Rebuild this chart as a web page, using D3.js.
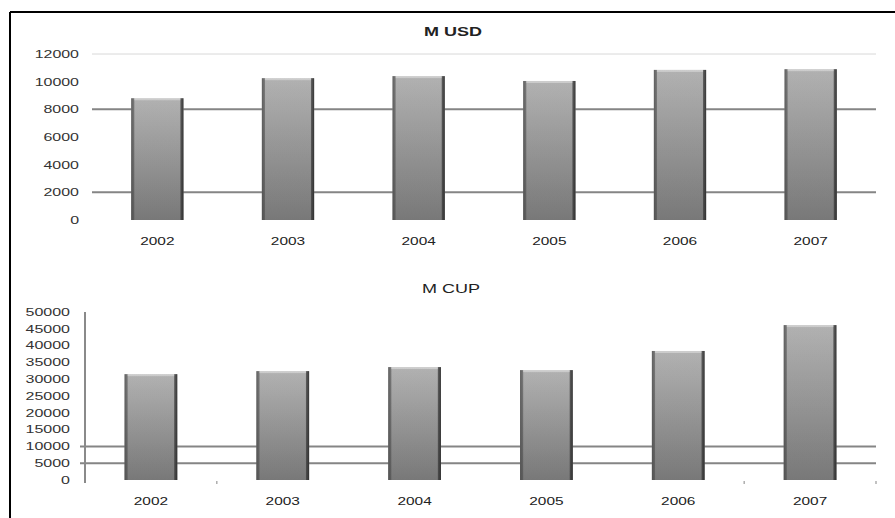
<!DOCTYPE html>
<html><head><meta charset="utf-8">
<script src="https://cdn.jsdelivr.net/npm/d3@7"></script>
<style>body{margin:0;background:#fff}svg{display:block;font-family:"Liberation Sans",Arial,sans-serif}</style>
</head><body><svg id="c" width="895" height="518"></svg>
<script>
const years = ["2002","2003","2004","2005","2006","2007"];
const usdValues = [8800, 10250, 10400, 10050, 10850, 10900];
const cupValues = [31500, 32400, 33600, 32700, 38400, 46100];
const usdTicks = [0,2000,4000,6000,8000,10000,12000];
const usdGrid = [2000,8000];
const cupTicks = [0,5000,10000,15000,20000,25000,30000,35000,40000,45000,50000];
const cupGrid = [5000,10000];

const svg = d3.select("#c");
const defs = svg.append("defs");
const g1 = defs.append("linearGradient").attr("id","barV").attr("x1",0).attr("y1",0).attr("x2",0).attr("y2",1);
g1.append("stop").attr("offset","0%").attr("stop-color","#b6b6b6");
g1.append("stop").attr("offset","100%").attr("stop-color","#7a7a7a");
const g2 = defs.append("linearGradient").attr("id","barH").attr("x1",0).attr("y1",0).attr("x2",1).attr("y2",0);
g2.append("stop").attr("offset","0%").attr("stop-color","#444").attr("stop-opacity",0.75);
g2.append("stop").attr("offset","5%").attr("stop-color","#444").attr("stop-opacity",0.55);
g2.append("stop").attr("offset","7%").attr("stop-color","#555").attr("stop-opacity",0.05);
g2.append("stop").attr("offset","93%").attr("stop-color","#555").attr("stop-opacity",0.05);
g2.append("stop").attr("offset","95%").attr("stop-color","#333").attr("stop-opacity",0.7);
g2.append("stop").attr("offset","100%").attr("stop-color","#222").attr("stop-opacity",0.85);

function panel(o){
  const x = d3.scaleBand().domain(years).range([o.x0,o.x1]).paddingInner(0.6).paddingOuter(0.3);
  const y = d3.scaleLinear().domain([0,o.max]).range([o.y0,o.y1]);
  const g = svg.append("g");
  g.append("text").attr("class","st").attr("data-f",1.5).attr("x",o.tx).attr("y",o.ty).attr("text-anchor","middle")
    .attr("font-size",12).attr("font-weight",o.bold?"bold":"normal").attr("fill","#222").text(o.title);
  if(o.topLine){
    g.append("line").attr("x1",o.x0).attr("x2",o.x1).attr("y1",y(o.max)).attr("y2",y(o.max))
      .attr("stroke","#d8d8d8").attr("stroke-width",1);
  }
  g.selectAll(".gl").data(o.grid).join("line")
    .attr("x1",o.gx0).attr("x2",o.x1).attr("y1",d=>y(d)).attr("y2",d=>y(d))
    .attr("stroke","#858585").attr("stroke-width",2);
  const ya = d3.axisLeft(y).tickValues(o.ticks).tickSize(0).tickPadding(0).tickFormat(d3.format("d"));
  const ay = g.append("g").attr("transform",`translate(${o.lx},0)`).call(ya);
  ay.select(".domain").remove();
  ay.selectAll("text").attr("class","st").attr("data-f",o.yf).attr("font-size",o.yfs).attr("fill","#333")
    .attr("font-family","'Liberation Sans',Arial,sans-serif");
  if(o.axisLine){
    g.append("line").attr("x1",o.x0).attr("x2",o.x0).attr("y1",y(o.max)).attr("y2",y(0)+3)
      .attr("stroke","#8a8a8a").attr("stroke-width",2);
    g.selectAll(".bt").data([1,5,6]).join("line")
      .attr("x1",i=>o.x0 + (o.x1-o.x0)/6*i).attr("x2",i=>o.x0 + (o.x1-o.x0)/6*i)
      .attr("y1",y(0)+1).attr("y2",y(0)+4).attr("stroke","#999").attr("stroke-width",1.2);
  }
  const bars = g.selectAll(".bar").data(o.values.map((v,i)=>({k:years[i],v}))).join("g");
  bars.append("rect").attr("x",d=>x(d.k)).attr("width",x.bandwidth())
    .attr("y",d=>y(d.v)).attr("height",d=>y(0)-y(d.v)).attr("fill","url(#barV)");
  bars.append("rect").attr("x",d=>x(d.k)).attr("width",x.bandwidth())
    .attr("y",d=>y(d.v)).attr("height",d=>y(0)-y(d.v)).attr("fill","url(#barH)");
  bars.append("rect").attr("x",d=>x(d.k)+3).attr("width",x.bandwidth()-6)
    .attr("y",d=>y(d.v)).attr("height",2).attr("fill","#fff").attr("opacity",0.35);
  g.selectAll(".xl").data(years).join("text").attr("class","st").attr("data-f",1.4)
    .attr("x",d=>x(d)+x.bandwidth()/2).attr("y",o.xly).attr("text-anchor","middle")
    .attr("font-size",11).attr("fill","#222").text(d=>d);
}

svg.append("line").attr("x1",10).attr("x2",895).attr("y1",12).attr("y2",12).attr("stroke","#000").attr("stroke-width",2);
svg.append("line").attr("x1",10).attr("x2",10).attr("y1",12).attr("y2",518).attr("stroke","#000").attr("stroke-width",2);

panel({title:"M USD",bold:true,tx:453,ty:36,x0:92,x1:876,gx0:92,y0:220,y1:54,max:12000,
  values:usdValues,ticks:usdTicks,grid:usdGrid,lx:79,xly:245,topLine:true,axisLine:false,yfs:11,yf:1.45});
panel({title:"M CUP",bold:false,tx:451,ty:293,x0:85,x1:876,gx0:80,y0:480,y1:312,max:50000,
  values:cupValues,ticks:cupTicks,grid:cupGrid,lx:70,xly:505,topLine:false,axisLine:true,yfs:10,yf:1.6});

svg.selectAll("text.st").each(function(){
  const f = +this.getAttribute("data-f");
  const w = this.getComputedTextLength();
  d3.select(this).attr("textLength",w*f).attr("lengthAdjust","spacingAndGlyphs");
});
</script></body></html>
